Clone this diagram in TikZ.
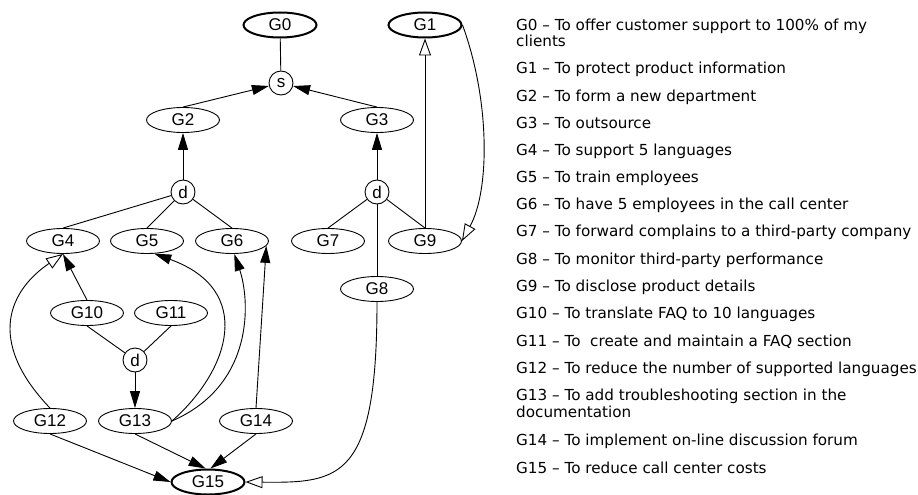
\documentclass[tikz,border=0pt]{standalone}
\usepackage{fontspec}
\setmainfont{Liberation Sans}
\newfontfamily\legendfont{DejaVu Sans}
\usetikzlibrary{arrows.meta,shapes.geometric}

\tikzset{
  goal/.style={ellipse, draw, line width=0.9pt, minimum width=73pt,
    minimum height=25pt, inner sep=0pt, font=\fontsize{17}{17}\selectfont},
  topgoal/.style={goal, line width=2pt},
  junction/.style={circle, draw, line width=0.9pt, minimum size=24pt,
    inner sep=0pt, font=\fontsize{17}{17}\selectfont},
  link/.style={line width=0.9pt},
  solidarrow/.style={link, -{Triangle[length=17pt,width=10pt]}},
  openarrow/.style={link, -{Triangle[open,length=17pt,width=12pt]}},
  goaltext/.style={anchor=base west, inner sep=0pt, align=left,
    font=\legendfont\fontsize{15.2}{16.5}\selectfont},
}

\begin{document}
\begin{tikzpicture}[x=1pt,y=-1pt]
  \useasboundingbox (0,0) rectangle (918,495);

  % goal graph
  \node[topgoal] (G0) at (280,25) {G0};
  \node[topgoal] (G1) at (425,25) {G1};
  \node[junction] (s) at (281,83) {s};
  \node[goal] (G2) at (183,120) {G2};
  \node[goal] (G3) at (377,120) {G3};
  \node[junction] (d1) at (183,192) {d};
  \node[junction] (d2) at (377,192) {d};
  \node[goal] (G4) at (63,241) {G4};
  \node[goal] (G5) at (147,241) {G5};
  \node[goal] (G6) at (232,241) {G6};
  \node[goal] (G7) at (328,241) {G7};
  \node[goal] (G9) at (425,241) {G9};
  \node[goal] (G8) at (377,289) {G8};
  \node[goal] (G10) at (87,313) {G10};
  \node[goal] (G11) at (171,313) {G11};
  \node[junction] (d3) at (135,360) {d};
  \node[goal] (G12) at (50,421) {G12};
  \node[goal] (G13) at (135,421) {G13};
  \node[goal] (G14) at (256,421) {G14};
  \node[topgoal] (G15) at (208,482) {G15};

  % decompositions and contributions
  \draw[link] (G0) -- (s);
  \draw[solidarrow] (G2.north) -- (s);
  \draw[solidarrow] (G3.north) -- (s);
  \draw[solidarrow] (d1) -- (G2);
  \draw[solidarrow] (d2) -- (G3);
  \draw[link] (G4.north) -- (d1);
  \draw[link] (G5.north) -- (d1);
  \draw[link] (G6.north) -- (d1);
  \draw[link] (G7.north) -- (d2);
  \draw[link] (G9.north) -- (d2);
  \draw[link] (G8) -- (d2);
  \draw[openarrow] (G9.north) -- (G1);
  \draw[openarrow] (G1.east) .. controls (490,100) and (490,190) .. (G9.east);
  \draw[link] (G10.south) -- (d3);
  \draw[link] (G11.south) -- (d3);
  \draw[solidarrow] (d3) -- (G13);
  \draw[solidarrow] (G10.north) -- (G4.south);
  \draw[openarrow] (G12.north) .. controls (-15,340) and (10,290) .. (G4.south);
  \draw[solidarrow] (G13.east) .. controls (230,370) and (255,290) .. (G5.-60);
  \draw[solidarrow] (G13.east) .. controls (255,385) and (250,300) .. (G6.-80);
  \draw[solidarrow] (G14.north) -- (G6.-8);
  \draw[solidarrow] (G12.south) -- (G15.west);
  \draw[solidarrow] (G13.south) -- (G15.100);
  \draw[solidarrow] (G14.south) -- (G15.80);
  \draw[openarrow] (G8.south) .. controls (377,480) and (340,483) .. (G15.east);

  % goal descriptions (two-line entries sit on their last baseline)
  \node[goaltext] (t0) at (516,47) {G0 – To offer customer support to 100\% of my\\clients};
  \node[goaltext] (t1) at (516,74) {G1 – To protect product information};
  \node[goaltext] (t2) at (516,101) {G2 – To form a new department};
  \node[goaltext] (t3) at (516,128) {G3 – To outsource};
  \node[goaltext] (t4) at (516,155) {G4 – To support 5 languages};
  \node[goaltext] (t5) at (516,182) {G5 – To train employees};
  \node[goaltext] (t6) at (516,209) {G6 – To have 5 employees in the call center};
  \node[goaltext] (t7) at (516,236) {G7 – To forward complains to a third-party company};
  \node[goaltext] (t8) at (516,264) {G8 – To monitor third-party performance};
  \node[goaltext] (t9) at (516,291) {G9 – To disclose product details};
  \node[goaltext] (t10) at (516,318) {G10 – To translate FAQ to 10 languages};
  \node[goaltext] (t11) at (516,346) {G11 – To\ \ create and maintain a FAQ section};
  \node[goaltext] (t12) at (516,373) {G12 – To reduce the number of supported languages};
  \node[goaltext] (t13) at (516,417) {G13 – To add troubleshooting section in the\\documentation};
  \node[goaltext] (t14) at (516,445) {G14 – To implement on-line discussion forum};
  \node[goaltext] (t15) at (516,473) {G15 – To reduce call center costs};
\end{tikzpicture}
\end{document}
